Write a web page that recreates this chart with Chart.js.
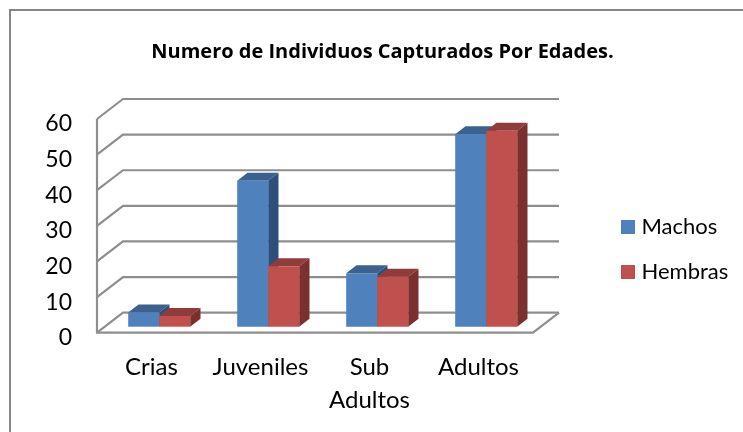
<!DOCTYPE html>
<html>
<head>
<meta charset="utf-8">
<style>html,body{margin:0;padding:0;background:#fff}canvas{display:block}</style>
<script src="https://cdn.jsdelivr.net/npm/chart.js@4"></script>
</head>
<body>
<div style="width:743px;height:432px"><canvas id="c" width="743" height="432"></canvas></div>
<script>
const categories = [["Crias"], ["Juveniles"], ["Sub", "Adultos"], ["Adultos"]];
const machos = [4, 41, 15, 54];
const hembras = [3, 17, 14, 55];
const titleText = "Numero de Individuos Capturados Por Edades.";

const BLUE = {front:'#4F81BD', top:'#3B618F', side:'#2F4F7B'};
const RED = {front:'#C0504D', top:'#8F3C3A', side:'#7A302E'};
const GRID = '#8E8E8E';
const wall = {dx:26, dy:-20};
const plane = {dx:7.7, dy:-6};
const depth = {dx:10.3, dy:-8};

function poly(ctx, pts, fill){
  ctx.beginPath();
  pts.forEach((p,i)=> i ? ctx.lineTo(p[0],p[1]) : ctx.moveTo(p[0],p[1]));
  ctx.closePath();
  ctx.fillStyle = fill;
  ctx.fill();
}

const box3d = {
  id:'box3d',
  afterLayout(chart){
    const t = chart.titleBlock; t.left = 10; t.right = 755;
    const l = chart.legend; const pad = l.options.labels.padding;
    l.left = 625.5 - pad; l.right = l.left + l.width;
    l.top = 216 - pad; l.bottom = l.top + l.height;
  },
  beforeDraw(chart){
    const ctx = chart.ctx;
    ctx.save();
    ctx.strokeStyle = '#868686'; ctx.lineWidth = 2;
    ctx.beginPath(); ctx.moveTo(10,chart.height); ctx.lineTo(10,10); ctx.lineTo(chart.width,10); ctx.stroke();
    ctx.restore();
  },
  beforeDatasetsDraw(chart){
    const ctx = chart.ctx, x = chart.scales.x, y = chart.scales.y;
    ctx.save();
    ctx.strokeStyle = GRID; ctx.lineWidth = 2.2;
    y.ticks.forEach(t=>{
      const py = y.getPixelForValue(t.value);
      ctx.beginPath();
      ctx.moveTo(x.left,py);
      ctx.lineTo(x.left+wall.dx,py+wall.dy);
      ctx.lineTo(x.right+wall.dx,py+wall.dy);
      ctx.stroke();
    });
    const b = y.getPixelForValue(0), tp = y.getPixelForValue(y.max);
    ctx.beginPath();
    ctx.moveTo(x.left,tp); ctx.lineTo(x.left,b); ctx.lineTo(x.right,b);
    ctx.lineTo(x.right+wall.dx,b+wall.dy);
    ctx.stroke();
    ctx.translate(plane.dx,plane.dy);
    const dsColors = [BLUE, RED];
    chart.data.labels.forEach((_,i)=>{
      chart.data.datasets.forEach((ds,d)=>{
        const el = chart.getDatasetMeta(d).data[i];
        const l = el.x-el.width/2, r = el.x+el.width/2, c = dsColors[d];
        poly(ctx,[[l,el.y],[l+depth.dx,el.y+depth.dy],[r+depth.dx,el.y+depth.dy],[r,el.y]],c.top);
        poly(ctx,[[r,el.y],[r+depth.dx,el.y+depth.dy],[r+depth.dx,el.base+depth.dy],[r,el.base]],c.side);
        el.draw(ctx);
      });
    });
    ctx.restore();
    return false;
  }
};

new Chart(document.getElementById('c'),{
  type:'bar',
  data:{labels:categories,datasets:[
    {label:'Machos',data:machos,backgroundColor:BLUE.front,borderWidth:0,categoryPercentage:0.5688,barPercentage:1},
    {label:'Hembras',data:hembras,backgroundColor:RED.front,borderWidth:0,categoryPercentage:0.5688,barPercentage:1}
  ]},
  plugins:[box3d],
  options:{
    responsive:false,animation:false,
    layout:{padding:{left:0,right:210,top:0,bottom:0}},
    events:[],
    plugins:{
      tooltip:{enabled:false},
      title:{display:true,text:titleText,color:'#000',font:{family:'Open Sans',size:20,weight:'bold',lineHeight:1.2},padding:{top:40,bottom:55}},
      legend:{display:true,position:'chartArea',align:'start',
        labels:{color:'#000',font:{family:'Lato',size:22},boxWidth:5,boxHeight:5,padding:23,
          generateLabels(chart){
            return Chart.defaults.plugins.legend.labels.generateLabels(chart).map(it=>{
              it.lineWidth = 9; it.strokeStyle = it.fillStyle; return it;
            });
          }}}
    },
    scales:{
      x:{grid:{display:false},border:{display:false},
        afterFit(s){s.height=99.3;},
        ticks:{color:'#000',font:{family:'Lato',size:24,lineHeight:1.375},padding:10,maxRotation:0,autoSkip:false}},
      y:{min:0,max:60,grid:{display:false,drawTicks:false},border:{display:false},
        afterFit(s){s.width=97;},
        ticks:{color:'#000',stepSize:10,font:{family:'Lato',size:23},padding:25,labelOffset:5}}
    }
  }
});
</script>
</body>
</html>
